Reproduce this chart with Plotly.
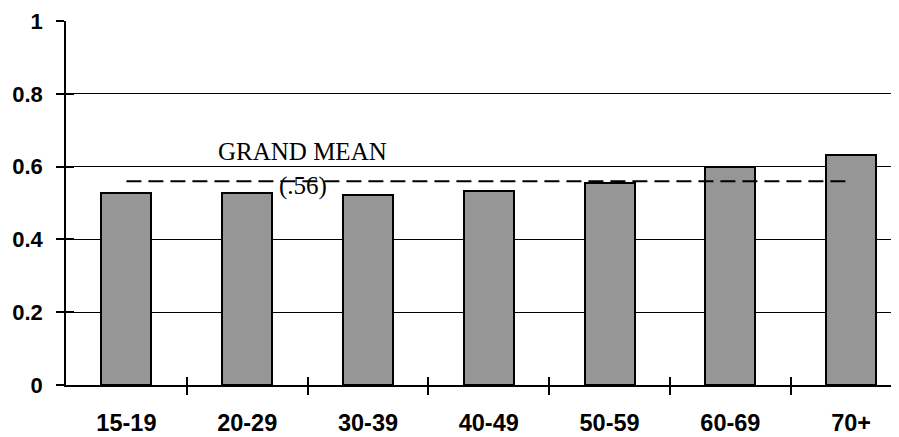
import plotly.graph_objects as go

categories = ["15-19", "20-29", "30-39", "40-49", "50-59", "60-69", "70+"]
values = [0.528, 0.527, 0.521, 0.532, 0.554, 0.600, 0.632]
grand_mean = 0.56
mean_label = "GRAND MEAN"
mean_value_label = "(.56)"
y_ticks = [0, 0.2, 0.4, 0.6, 0.8, 1]
y_ticktext = ["0", "0.2", "0.4", "0.6", "0.8", "1"]

idx = list(range(len(categories)))
boundaries = [i + 0.5 for i in idx[:-1]]

fig = go.Figure()
fig.add_trace(go.Bar(
    x=idx, y=values, width=0.414,
    marker=dict(color="#969696", line=dict(color="black", width=2)),
    showlegend=False, hoverinfo="skip",
))
fig.add_trace(go.Scatter(
    x=[idx[0], idx[-1]], y=[grand_mean, grand_mean], mode="lines",
    line=dict(color="black", width=2, dash="15px,7px"),
    showlegend=False, hoverinfo="skip",
))
# invisible trace to register the overlay axes used for inner tick halves
fig.add_trace(go.Scatter(
    x=idx, y=values, mode="markers", marker=dict(opacity=0),
    xaxis="x2", yaxis="y2", showlegend=False, hoverinfo="skip",
))

serif = dict(family="Liberation Serif", size=25, color="black")
fig.add_annotation(x=1.46, y=0.641, text=mean_label, showarrow=False,
                   font=serif, xanchor="center", yanchor="middle")
fig.add_annotation(x=1.46, y=0.547, text=mean_value_label, showarrow=False,
                   font=serif, xanchor="center", yanchor="middle")

tickstyle = dict(ticklen=8, tickwidth=1.5, tickcolor="black")

fig.update_layout(
    width=891, height=429,
    margin=dict(l=58, r=0, t=13, b=52),
    paper_bgcolor="white", plot_bgcolor="white",
    bargap=0,
    xaxis=dict(
        type="linear", range=[-0.5, 6.396],
        tickvals=idx, ticktext=["<b>%s</b>" % c for c in categories], ticks="",
        tickfont=dict(family="Liberation Sans", size=23.5, color="black"),
        ticklabelstandoff=16,
        showgrid=False, zeroline=False,
        showline=True, linecolor="black", linewidth=1.5,
        minor=dict(tickvals=boundaries, ticks="outside", showgrid=False, **tickstyle),
    ),
    xaxis2=dict(
        type="linear", overlaying="x", matches="x", anchor="y2", side="bottom",
        tickvals=boundaries, ticks="inside", showticklabels=False,
        showgrid=False, zeroline=False, showline=False, **tickstyle,
    ),
    yaxis=dict(
        range=[0, 1], tickvals=y_ticks,
        ticktext=["<b>%s</b>" % t for t in y_ticktext],
        ticks="outside",
        tickfont=dict(family="Liberation Sans", size=22, color="black"),
        ticklabelstandoff=9,
        showgrid=True, gridcolor="black", gridwidth=1,
        zeroline=False, showline=True, linecolor="black", linewidth=1.5,
        **tickstyle,
    ),
    yaxis2=dict(
        overlaying="y", matches="y", anchor="x2", side="left",
        tickvals=y_ticks, ticks="inside", showticklabels=False,
        showgrid=False, zeroline=False, showline=False, **tickstyle,
    ),
)

fig.write_html("out.html")
